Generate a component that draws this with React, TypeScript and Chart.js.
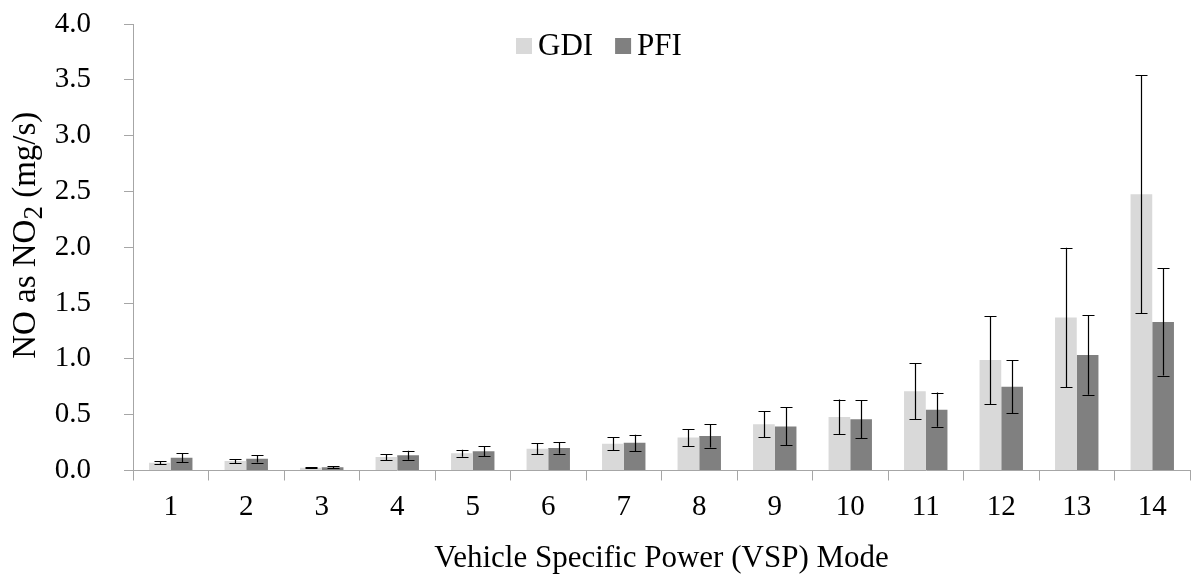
import React, { useEffect, useRef } from "react";
import { Chart, registerables } from "chart.js";

Chart.register(...registerables);

// VSP mode categories
const modes = ["1", "2", "3", "4", "5", "6", "7", "8", "9", "10", "11", "12", "13", "14"];

// Mean NO (as NO2) emission rates, mg/s
const gdiMean = [0.07, 0.085, 0.025, 0.12, 0.155, 0.195, 0.24, 0.295, 0.415, 0.48, 0.71, 0.99, 1.37, 2.475];
const pfiMean = [0.115, 0.105, 0.03, 0.137, 0.172, 0.202, 0.248, 0.31, 0.395, 0.46, 0.545, 0.75, 1.035, 1.33];

// Error bar half-widths (±), mg/s
const gdiErr = [0.016, 0.018, 0.005, 0.027, 0.032, 0.05, 0.06, 0.075, 0.115, 0.155, 0.25, 0.395, 0.625, 1.065];
const pfiErr = [0.04, 0.034, 0.009, 0.04, 0.045, 0.053, 0.073, 0.105, 0.17, 0.17, 0.153, 0.236, 0.357, 0.48];

const yTicks = [0, 0.5, 1, 1.5, 2, 2.5, 3, 3.5, 4];

const seriesNames = ["GDI", "PFI"];
const seriesColors = ["#d9d9d9", "#808080"];

// y-axis title pieces: "NO as NO" + subscript "2" + " (mg/s)"
const yTitleParts = ["NO as NO", "2", " (mg/s)"];

const SERIF = "'Liberation Serif', 'Times New Roman', serif";

const errorBarsPlugin = {
  id: "errorBars",
  afterDatasetsDraw(chart: any) {
    const { ctx } = chart;
    const yScale = chart.scales.y;
    const errs = [gdiErr, pfiErr];
    const means = [gdiMean, pfiMean];
    ctx.save();
    ctx.strokeStyle = "#000000";
    ctx.lineWidth = 1.2;
    chart.data.datasets.forEach((_ds: any, di: number) => {
      const meta = chart.getDatasetMeta(di);
      meta.data.forEach((bar: any, i: number) => {
        const m = means[di][i];
        const e = errs[di][i];
        const yTop = yScale.getPixelForValue(m + e);
        const yBot = yScale.getPixelForValue(m - e);
        const x = Math.round(bar.x) + 0.5;
        const half = 6;
        ctx.beginPath();
        ctx.moveTo(x, yTop);
        ctx.lineTo(x, yBot);
        ctx.moveTo(x - half, Math.round(yTop) + 0.5);
        ctx.lineTo(x + half, Math.round(yTop) + 0.5);
        ctx.moveTo(x - half, Math.round(yBot) + 0.5);
        ctx.lineTo(x + half, Math.round(yBot) + 0.5);
        ctx.stroke();
      });
    });
    ctx.restore();
  },
};

// Rotated y-axis title with a true subscript
const yTitlePlugin = {
  id: "yTitleSub",
  afterDraw(chart: any) {
    const { ctx, chartArea } = chart;
    const mainFont = `33px ${SERIF}`;
    const subFont = `27px ${SERIF}`;
    ctx.save();
    ctx.font = mainFont;
    const w0 = ctx.measureText(yTitleParts[0]).width;
    const w2 = ctx.measureText(yTitleParts[2]).width;
    ctx.font = subFont;
    const w1 = ctx.measureText(yTitleParts[1]).width;
    const total = w0 + w1 + w2;
    const cy = (chartArea.top + chartArea.bottom) / 2 - 12;
    ctx.translate(35, cy);
    ctx.rotate(-Math.PI / 2);
    ctx.fillStyle = "#000000";
    ctx.textBaseline = "alphabetic";
    ctx.textAlign = "left";
    let x = -total / 2;
    ctx.font = mainFont;
    ctx.fillText(yTitleParts[0], x, 0);
    x += w0;
    ctx.font = subFont;
    ctx.fillText(yTitleParts[1], x, 7);
    x += w1;
    ctx.font = mainFont;
    ctx.fillText(yTitleParts[2], x, 0);
    ctx.restore();
  },
};

const legendPlugin = {
  id: "insideLegend",
  afterDraw(chart: any) {
    const { ctx } = chart;
    ctx.save();
    ctx.font = `31px ${SERIF}`;
    ctx.textBaseline = "middle";
    ctx.fillStyle = "#000000";
    const y = 46;
    const box = 16;
    let x = 516;
    seriesNames.forEach((name, i) => {
      ctx.fillStyle = seriesColors[i];
      ctx.fillRect(x, y - box / 2, box, box);
      ctx.fillStyle = "#000000";
      ctx.fillText(name, x + box + 6, y + 1);
      x += box + 6 + ctx.measureText(name).width + 22;
    });
    ctx.restore();
  },
};

export default function App() {
  const canvasRef = useRef<HTMLCanvasElement | null>(null);

  useEffect(() => {
    if (!canvasRef.current) return;
    const chart = new Chart(canvasRef.current, {
      type: "bar",
      data: {
        labels: modes,
        datasets: [
          { label: seriesNames[0], data: gdiMean, backgroundColor: seriesColors[0] },
          { label: seriesNames[1], data: pfiMean, backgroundColor: seriesColors[1] },
        ],
      },
      options: {
        animation: false,
        responsive: true,
        maintainAspectRatio: false,
        layout: { padding: { top: 24, right: 3, left: 0, bottom: 0 } },
        datasets: {
          bar: { categoryPercentage: 0.575, barPercentage: 1.0 },
        },
        plugins: {
          legend: { display: false },
          tooltip: { enabled: false },
        },
        scales: {
          x: {
            offset: true,
            grid: {
              display: true,
              offset: true,
              drawOnChartArea: false,
              drawTicks: true,
              tickLength: 10,
              color: "#a6a6a6",
            },
            border: { display: true, color: "#a6a6a6", width: 1 },
            ticks: {
              color: "#000000",
              font: { family: SERIF, size: 29 },
              padding: 9,
              maxRotation: 0,
            },
            title: {
              display: true,
              text: "Vehicle Specific Power (VSP) Mode",
              color: "#000000",
              font: { family: SERIF, size: 31 },
              padding: { top: 0, bottom: 2 },
            },
            afterFit: (scale: any) => {
              scale.height = 108.5;
            },
          },
          y: {
            min: 0,
            max: 4,
            afterBuildTicks: (scale: any) => {
              scale.ticks = yTicks.map((v) => ({ value: v }));
            },
            grid: {
              display: true,
              drawOnChartArea: false,
              drawTicks: true,
              tickLength: 9,
              color: "#a6a6a6",
            },
            border: { display: true, color: "#a6a6a6", width: 1 },
            ticks: {
              color: "#000000",
              font: { family: SERIF, size: 29 },
              padding: 33,
              callback: (v: any) => Number(v).toFixed(1),
            },
            title: { display: false },
            afterFit: (scale: any) => {
              // the wide label gap should not push the plot area down
              scale.width = 133;
              scale.paddingTop = 0;
              scale.paddingBottom = 0;
            },
          },
        },
      },
      plugins: [errorBarsPlugin, yTitlePlugin, legendPlugin],
    });
    return () => chart.destroy();
  }, []);

  return (
    <div style={{ position: "fixed", left: 0, top: 0, width: 1193, height: 579, background: "#ffffff" }}>
      <canvas ref={canvasRef} />
    </div>
  );
}
